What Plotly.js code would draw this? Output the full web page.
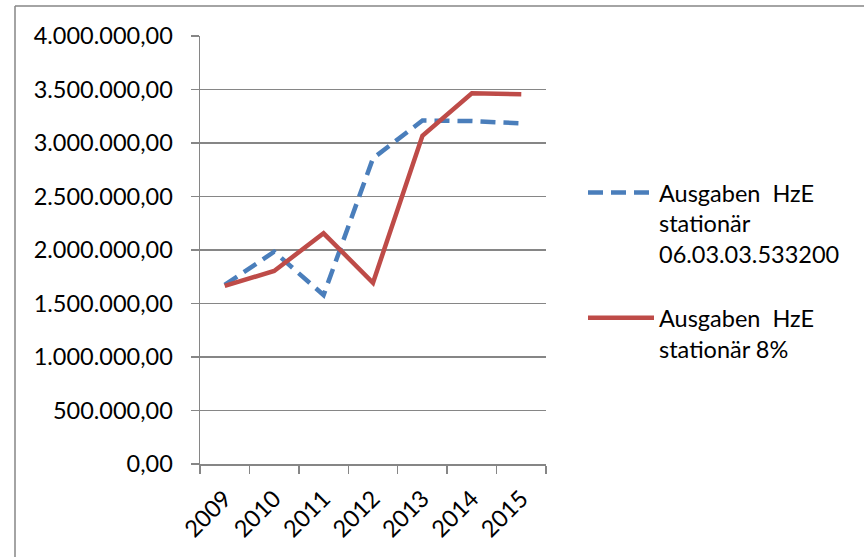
<!DOCTYPE html>
<html>
<head>
<meta charset="utf-8">
<script src="https://cdn.plot.ly/plotly-3.0.1.min.js"></script>
<style>html,body{margin:0;padding:0;background:#fff;}</style>
</head>
<body>
<div id="chart" style="width:864px;height:557px;"></div>
<script>
var years = ['2009', '2010', '2011', '2012', '2013', '2014', '2015'];
var ausgabenKonto = [1673000, 1984000, 1579000, 2857000, 3210000, 3205000, 3184000];
var ausgaben8 = [1664000, 1804000, 2156000, 1694000, 3068000, 3464000, 3455000];
var seriesNames = ['Ausgaben\u00a0 HzE<br>stationär<br>06.03.03.533200<br> ', 'Ausgaben\u00a0 HzE<br>stationär 8%'];
var yTicks = [0, 500000, 1000000, 1500000, 2000000, 2500000, 3000000, 3500000, 4000000];

var font = {family: 'Lato, "Liberation Sans", sans-serif', size: 23.5, color: '#000'};

var traces = [
  {x: years, y: ausgabenKonto, name: seriesNames[0], type: 'scatter', mode: 'lines',
   line: {color: '#4a7ebb', width: 4.5, dash: '15px,8px'}},
  {x: years, y: ausgaben8, name: seriesNames[1], type: 'scatter', mode: 'lines',
   line: {color: '#be4b48', width: 4.5}}
];

var layout = {
  width: 864, height: 557,
  margin: {l: 200, r: 318, t: 36, b: 93},
  paper_bgcolor: '#fff', plot_bgcolor: '#fff',
  font: font,
  separators: ',.',
  showlegend: true,
  legend: {x: (583 - 200) / 346, y: 0.685, xanchor: 'left', yanchor: 'top', valign: 'top',
           font: font, itemwidth: 66, bgcolor: 'rgba(0,0,0,0)', tracegroupgap: 0},
  xaxis: {type: 'category', range: [-0.5, 6.5], tickangle: -45, tickson: 'boundaries',
          ticks: 'outside', ticklen: 8, tickcolor: '#868686', tickwidth: 1.5,
          ticklabelstandoff: 10,
          showline: true, linecolor: '#868686', linewidth: 1.5, showgrid: false,
          zeroline: false, fixedrange: true, tickfont: font},
  yaxis: {range: [0, 4000000], tickvals: yTicks, tickformat: ',.2f',
          ticks: 'outside', ticklen: 8, tickcolor: '#868686', tickwidth: 1.5,
          ticklabelstandoff: 13,
          showline: true, linecolor: '#868686', linewidth: 1.5,
          showgrid: true, gridcolor: '#868686', gridwidth: 1.5, zeroline: false,
          fixedrange: true, tickfont: font},
  shapes: [
    {type: 'line', xref: 'paper', yref: 'paper', x0: (15 - 200) / 346, x1: (864 - 200) / 346,
     y0: (464 - 6) / 428, y1: (464 - 6) / 428, line: {color: '#868686', width: 1.5}},
    {type: 'line', xref: 'paper', yref: 'paper', x0: (15 - 200) / 346, x1: (15 - 200) / 346,
     y0: (464 - 6) / 428, y1: (464 - 560) / 428, line: {color: '#868686', width: 1.5}}
  ]
};

Plotly.newPlot('chart', traces, layout, {displayModeBar: false, staticPlot: true});
</script>
</body>
</html>
